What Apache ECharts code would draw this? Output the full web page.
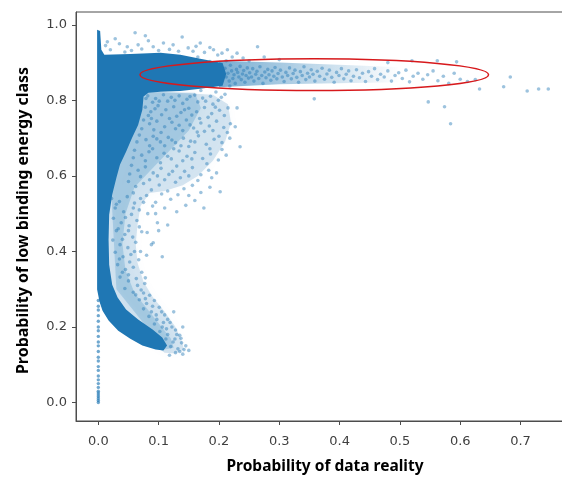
<!DOCTYPE html>
<html>
<head>
<meta charset="utf-8">
<script src="https://cdn.jsdelivr.net/npm/echarts@6.0.0/dist/echarts.min.js"></script>
<style>
  html, body { margin: 0; padding: 0; background: #fff; }
  #chart { width: 562px; height: 477px; }
</style>
</head>
<body>
<div id="chart"></div>
<script>
  // axis ranges and ticks (matplotlib style 5% margins)
  const xMin = -0.037, xMax = 0.782
  const yMin = -0.049, yMax = 1.034
  const xTicks = [0, 0.1, 0.2, 0.3, 0.4, 0.5, 0.6, 0.7]
  const yTicks = [0, 0.2, 0.4, 0.6, 0.8, 1.0]

  // outline of the solid (fully overlapped) part of the cloud
  const coreOutline = [
    [-0.002, 0.987], [0.003, 0.984], [0.005, 0.934], [0.010, 0.921], [0.053, 0.923],
    [0.103, 0.926], [0.136, 0.921], [0.169, 0.910], [0.206, 0.899], [0.212, 0.870],
    [0.206, 0.839], [0.169, 0.831], [0.136, 0.825], [0.103, 0.823], [0.083, 0.820],
    [0.075, 0.810], [0.073, 0.775], [0.066, 0.735], [0.056, 0.701], [0.046, 0.664],
    [0.036, 0.630], [0.030, 0.595], [0.023, 0.550], [0.018, 0.497], [0.017, 0.431],
    [0.018, 0.365], [0.023, 0.312], [0.032, 0.278], [0.046, 0.246], [0.066, 0.220],
    [0.090, 0.193], [0.106, 0.172], [0.114, 0.151], [0.108, 0.138], [0.095, 0.140],
    [0.073, 0.151], [0.053, 0.169], [0.033, 0.190], [0.017, 0.217], [0.007, 0.243],
    [0.002, 0.267], [-0.002, 0.299]
  ]

  // medium density region around the core (outer and inner level)
  const haloOutline = [
    [0.075, 0.825], [0.130, 0.820], [0.190, 0.815], [0.215, 0.790], [0.220, 0.740],
    [0.210, 0.690], [0.190, 0.640], [0.165, 0.600], [0.140, 0.575], [0.110, 0.560],
    [0.085, 0.555], [0.070, 0.520], [0.065, 0.470], [0.062, 0.420], [0.065, 0.370],
    [0.075, 0.320], [0.090, 0.280], [0.110, 0.240], [0.128, 0.200], [0.138, 0.165],
    [0.142, 0.140], [0.128, 0.130], [0.110, 0.132], [0.050, 0.200], [0.010, 0.300],
    [0.010, 0.800]
  ]
  const innerHaloOutline = [
    [0.075, 0.822], [0.160, 0.820], [0.170, 0.780], [0.150, 0.720], [0.120, 0.670],
    [0.090, 0.620], [0.060, 0.570], [0.045, 0.500], [0.040, 0.420], [0.045, 0.350],
    [0.060, 0.290], [0.080, 0.250], [0.100, 0.210], [0.120, 0.170], [0.125, 0.145],
    [0.110, 0.140], [0.030, 0.300], [0.020, 0.600]
  ]

  // medium density part of the horizontal band
  const bandOutline = [
    [0.200, 0.905], [0.300, 0.900], [0.420, 0.893], [0.500, 0.888],
    [0.500, 0.848], [0.420, 0.846], [0.300, 0.843], [0.200, 0.835]
  ]

  const topFringe = [
    [0.061, 0.979], [0.078, 0.971], [0.028, 0.963], [0.139, 0.968], [0.108, 0.952], [0.124, 0.947],
    [0.169, 0.952], [0.191, 0.934], [0.048, 0.942], [0.066, 0.947], [0.091, 0.942], [0.149, 0.939],
    [0.020, 0.934], [0.214, 0.934], [0.264, 0.942], [0.035, 0.950], [0.083, 0.958], [0.118, 0.935],
    [0.157, 0.930], [0.176, 0.927], [0.198, 0.920], [0.222, 0.915], [0.240, 0.912], [0.012, 0.945],
    [0.100, 0.932], [0.133, 0.930], [0.055, 0.932], [0.072, 0.936], [0.185, 0.940], [0.230, 0.925],
    [0.015, 0.955], [0.044, 0.928], [0.162, 0.943], [0.205, 0.925], [0.250, 0.905], [0.275, 0.915],
    [0.300, 0.908], [0.150, 0.905], [0.165, 0.915], [0.185, 0.903], [0.212, 0.905]
  ]

  const bandPoints = [
    [0.145, 0.832], [0.170, 0.826], [0.195, 0.822], [0.218, 0.838],
    [0.210, 0.885], [0.212, 0.862], [0.215, 0.872], [0.217, 0.851], [0.219, 0.893], [0.221, 0.878],
    [0.223, 0.858], [0.225, 0.868], [0.227, 0.845], [0.229, 0.882], [0.231, 0.874], [0.233, 0.862],
    [0.235, 0.890], [0.237, 0.855], [0.239, 0.870], [0.241, 0.879], [0.243, 0.848], [0.245, 0.866],
    [0.247, 0.886], [0.249, 0.859], [0.251, 0.873], [0.254, 0.862], [0.256, 0.884], [0.258, 0.851],
    [0.261, 0.869], [0.263, 0.877], [0.266, 0.858], [0.268, 0.889], [0.271, 0.866], [0.273, 0.845],
    [0.276, 0.875], [0.278, 0.860], [0.281, 0.882], [0.283, 0.868], [0.286, 0.853], [0.288, 0.878],
    [0.291, 0.864], [0.293, 0.887], [0.296, 0.857], [0.298, 0.871], [0.302, 0.880], [0.305, 0.862],
    [0.308, 0.850], [0.311, 0.874], [0.314, 0.866], [0.317, 0.886], [0.320, 0.857], [0.323, 0.871],
    [0.326, 0.880], [0.329, 0.861], [0.332, 0.848], [0.335, 0.876], [0.338, 0.866], [0.341, 0.889],
    [0.344, 0.855], [0.347, 0.872], [0.350, 0.862], [0.353, 0.881], [0.356, 0.869], [0.359, 0.851],
    [0.363, 0.877], [0.367, 0.864], [0.371, 0.885], [0.375, 0.856], [0.379, 0.870], [0.383, 0.880],
    [0.387, 0.861], [0.391, 0.848], [0.395, 0.874], [0.399, 0.866], [0.403, 0.884], [0.407, 0.857],
    [0.411, 0.869], [0.415, 0.878], [0.419, 0.852], [0.423, 0.864], [0.428, 0.881], [0.433, 0.860],
    [0.438, 0.872], [0.443, 0.850], [0.448, 0.876], [0.453, 0.864], [0.458, 0.884], [0.463, 0.855],
    [0.468, 0.869], [0.474, 0.862], [0.480, 0.878], [0.486, 0.851], [0.492, 0.866], [0.498, 0.873],
    [0.504, 0.858], [0.510, 0.880], [0.516, 0.849], [0.522, 0.864], [0.530, 0.872], [0.538, 0.856],
    [0.546, 0.868], [0.555, 0.878], [0.563, 0.852], [0.572, 0.864], [0.581, 0.845], [0.590, 0.872],
    [0.600, 0.856], [0.612, 0.850], [0.625, 0.855]
  ]

  const outliers = [
    [0.672, 0.836], [0.683, 0.862], [0.711, 0.825], [0.730, 0.830], [0.746, 0.830], [0.632, 0.830],
    [0.547, 0.796], [0.574, 0.783], [0.584, 0.738], [0.358, 0.804], [0.594, 0.902], [0.562, 0.905],
    [0.520, 0.905], [0.480, 0.900], [0.230, 0.780], [0.235, 0.677], [0.202, 0.558], [0.227, 0.730]
  ]

  const midCloud = [
    [0.082, 0.812], [0.095, 0.805], [0.108, 0.815], [0.121, 0.808], [0.134, 0.812], [0.147, 0.803],
    [0.160, 0.814], [0.173, 0.806], [0.186, 0.811], [0.199, 0.800], [0.210, 0.816], [0.090, 0.795],
    [0.115, 0.798], [0.140, 0.792], [0.165, 0.796], [0.190, 0.790], [0.078, 0.782], [0.087, 0.770],
    [0.099, 0.786], [0.112, 0.775], [0.125, 0.783], [0.137, 0.768], [0.150, 0.779], [0.163, 0.770],
    [0.176, 0.781], [0.188, 0.765], [0.201, 0.774], [0.215, 0.780], [0.105, 0.762], [0.130, 0.758],
    [0.155, 0.761], [0.182, 0.755], [0.075, 0.748], [0.085, 0.738], [0.097, 0.745], [0.110, 0.730],
    [0.122, 0.742], [0.134, 0.734], [0.146, 0.748], [0.158, 0.727], [0.170, 0.740], [0.184, 0.732],
    [0.196, 0.745], [0.208, 0.728], [0.219, 0.738], [0.092, 0.722], [0.140, 0.720], [0.176, 0.718],
    [0.068, 0.708], [0.079, 0.696], [0.091, 0.705], [0.103, 0.690], [0.116, 0.702], [0.128, 0.688],
    [0.141, 0.700], [0.153, 0.692], [0.166, 0.706], [0.179, 0.684], [0.192, 0.697], [0.205, 0.688],
    [0.218, 0.700], [0.110, 0.680], [0.150, 0.678], [0.060, 0.668], [0.072, 0.655], [0.084, 0.664],
    [0.097, 0.648], [0.109, 0.660], [0.121, 0.645], [0.134, 0.666], [0.147, 0.652], [0.160, 0.662],
    [0.173, 0.646], [0.186, 0.658], [0.199, 0.642], [0.212, 0.655], [0.125, 0.672], [0.055, 0.628],
    [0.066, 0.615], [0.078, 0.624], [0.091, 0.608], [0.104, 0.620], [0.117, 0.604], [0.130, 0.626],
    [0.143, 0.612], [0.156, 0.622], [0.170, 0.603], [0.183, 0.615], [0.196, 0.608], [0.050, 0.585],
    [0.062, 0.572], [0.075, 0.580], [0.088, 0.563], [0.101, 0.576], [0.115, 0.560], [0.128, 0.583],
    [0.142, 0.566], [0.156, 0.575], [0.170, 0.556], [0.185, 0.570], [0.070, 0.540], [0.095, 0.530],
    [0.120, 0.538], [0.145, 0.522], [0.160, 0.535], [0.175, 0.515], [0.110, 0.515],
    [0.079, 0.805], [0.101, 0.798], [0.127, 0.800], [0.152, 0.810], [0.178, 0.798], [0.204, 0.808],
    [0.083, 0.760], [0.094, 0.778], [0.118, 0.752], [0.143, 0.775], [0.168, 0.752], [0.194, 0.782],
    [0.209, 0.760], [0.072, 0.725], [0.088, 0.752], [0.104, 0.715], [0.128, 0.725], [0.152, 0.735],
    [0.164, 0.716], [0.190, 0.720], [0.214, 0.715], [0.064, 0.690], [0.085, 0.680], [0.097, 0.698],
    [0.122, 0.695], [0.137, 0.680], [0.160, 0.690], [0.185, 0.672], [0.200, 0.705], [0.058, 0.648],
    [0.078, 0.640], [0.090, 0.672], [0.103, 0.635], [0.115, 0.652], [0.140, 0.640], [0.155, 0.645],
    [0.180, 0.632], [0.205, 0.670], [0.052, 0.605], [0.070, 0.598], [0.085, 0.590], [0.098, 0.600],
    [0.110, 0.590], [0.123, 0.612], [0.136, 0.595], [0.150, 0.600], [0.165, 0.588], [0.188, 0.595],
    [0.058, 0.555], [0.080, 0.548], [0.105, 0.552], [0.132, 0.550], [0.150, 0.548], [0.090, 0.520],
    [0.130, 0.505]
  ]

  const lowCloud = [
    [0.022, 0.540], [0.035, 0.532], [0.048, 0.545], [0.060, 0.528], [0.028, 0.515], [0.042, 0.505],
    [0.055, 0.498], [0.068, 0.510], [0.025, 0.488], [0.038, 0.476], [0.051, 0.468], [0.064, 0.482],
    [0.030, 0.455], [0.044, 0.445], [0.057, 0.438], [0.072, 0.452], [0.024, 0.430], [0.036, 0.418],
    [0.049, 0.410], [0.062, 0.424], [0.088, 0.418], [0.028, 0.398], [0.041, 0.386], [0.054, 0.392],
    [0.067, 0.378], [0.032, 0.365], [0.045, 0.352], [0.058, 0.358], [0.072, 0.345], [0.036, 0.332],
    [0.050, 0.322], [0.063, 0.328], [0.077, 0.315], [0.044, 0.302], [0.058, 0.292], [0.071, 0.298],
    [0.085, 0.284], [0.100, 0.455], [0.115, 0.470], [0.095, 0.500], [0.080, 0.390], [0.098, 0.476],
    [0.091, 0.423], [0.081, 0.450], [0.106, 0.386],
    [0.030, 0.525], [0.045, 0.490], [0.058, 0.515], [0.033, 0.460], [0.050, 0.455], [0.040, 0.432],
    [0.060, 0.400], [0.035, 0.380], [0.052, 0.372], [0.040, 0.345], [0.065, 0.310], [0.050, 0.338],
    [0.075, 0.290], [0.078, 0.330], [0.070, 0.400], [0.068, 0.465], [0.082, 0.500], [0.075, 0.530]
  ]

  const curveFringe = [
    [0.068, 0.272], [0.080, 0.262], [0.093, 0.270], [0.075, 0.248], [0.088, 0.240], [0.101, 0.252],
    [0.084, 0.228], [0.097, 0.220], [0.110, 0.232], [0.093, 0.208], [0.106, 0.200], [0.119, 0.212],
    [0.102, 0.188], [0.115, 0.180], [0.128, 0.192], [0.112, 0.168], [0.124, 0.160], [0.137, 0.170],
    [0.120, 0.148], [0.132, 0.142], [0.145, 0.150], [0.128, 0.132], [0.140, 0.128], [0.150, 0.138],
    [0.118, 0.125], [0.125, 0.240], [0.140, 0.200], [0.135, 0.178],
    [0.062, 0.285], [0.078, 0.275], [0.090, 0.255], [0.105, 0.240], [0.096, 0.232], [0.115, 0.220],
    [0.108, 0.212], [0.122, 0.200], [0.130, 0.180], [0.127, 0.168], [0.138, 0.158], [0.142, 0.140],
    [0.135, 0.135], [0.113, 0.195]
  ]

  // the dotted run of points at x = 0 under the curve
  const zeroColumn = [
    [0, 0.0], [0, 0.005], [0, 0.01], [0, 0.015], [0, 0.02], [0, 0.025], [0, 0.03], [0, 0.04],
    [0, 0.05], [0, 0.06], [0, 0.07], [0, 0.085], [0, 0.095], [0, 0.11], [0, 0.12], [0, 0.135],
    [0, 0.15], [0, 0.16], [0, 0.175], [0, 0.19], [0, 0.2], [0, 0.215], [0, 0.23], [0, 0.245],
    [0, 0.255], [0, 0.27]
  ]

  // red ellipse: centre x, centre y, radius x, radius y
  const highlight = [0.358, 0.868, 0.289, 0.042]

  const blue = '#1f77b4'
  const axisColor = '#4d4d4d'

  function polygonSeries(outline, fill, z, blur) {
    return {
      type: 'custom',
      data: outline,
      z: z,
      silent: true,
      renderItem: function (params, api) {
        if (params.dataIndex !== 0) return null
        let style = {fill: fill}
        if (blur) {
          style.shadowBlur = blur
          style.shadowColor = fill
        }
        return {
          type: 'polygon',
          shape: {points: outline.map(p => api.coord(p))},
          style: style
        }
      }
    }
  }

  const chart = echarts.init(document.getElementById('chart'))

  let option = {
    animation: false,
    grid: {
      left: 76, top: 12, right: -8, bottom: 56,
      outerBoundsMode: 'none',
      show: true, borderColor: axisColor, borderWidth: 1
    },
    xAxis: {
      type: 'value', min: xMin, max: xMax,
      splitLine: {show: false},
      axisLine: {show: true, onZero: false, lineStyle: {color: axisColor}},
      axisTick: {show: true, length: 4, customValues: xTicks, lineStyle: {color: axisColor}},
      axisLabel: {
        customValues: xTicks, formatter: v => v.toFixed(1), margin: 14,
        color: '#404040', fontSize: 13, fontFamily: 'DejaVu Sans'
      },
      name: 'Probability of data reality', nameLocation: 'middle', nameGap: 38,
      nameTextStyle: {fontFamily: 'Noto Sans', fontWeight: 'bold', fontSize: 15.5, color: '#000', padding: [0, 0, 0, 4]}
    },
    yAxis: {
      type: 'value', min: yMin, max: yMax,
      splitLine: {show: false},
      axisLine: {show: true, onZero: false, lineStyle: {color: axisColor}},
      axisTick: {show: true, length: 4, customValues: yTicks, lineStyle: {color: axisColor}},
      axisLabel: {
        customValues: yTicks, formatter: v => v.toFixed(1), margin: 9,
        color: '#404040', fontSize: 13, fontFamily: 'DejaVu Sans'
      },
      name: 'Probability of low binding energy class', nameLocation: 'middle', nameGap: 45,
      nameTextStyle: {fontFamily: 'Noto Sans', fontWeight: 'bold', fontSize: 16, color: '#000', padding: [0, 8, 0, 0]}
    },
    series: [
      polygonSeries(haloOutline, 'rgba(31,119,180,0.18)', 1, 10),
      polygonSeries(innerHaloOutline, 'rgba(31,119,180,0.22)', 1, 10),
      polygonSeries(bandOutline, new echarts.graphic.LinearGradient(0, 0, 1, 0, [
        {offset: 0, color: 'rgba(31,119,180,0.6)'},
        {offset: 1, color: 'rgba(31,119,180,0.0)'}
      ]), 1),
      polygonSeries(coreOutline, blue, 2),
      {
        type: 'scatter',
        z: 3,
        silent: true,
        symbolSize: 3.6,
        itemStyle: {color: 'rgba(31,119,180,0.55)'},
        data: [].concat(topFringe, bandPoints, outliers, midCloud, lowCloud, curveFringe)
      },
      {
        type: 'scatter',
        z: 3,
        silent: true,
        symbolSize: 3.4,
        itemStyle: {color: 'rgba(31,119,180,0.8)'},
        data: zeroColumn
      },
      {
        type: 'custom',
        z: 4,
        silent: true,
        data: [highlight],
        renderItem: function (params, api) {
          const c = api.coord([api.value(0), api.value(1)])
          const s = api.size([api.value(2), api.value(3)])
          return {
            type: 'ellipse',
            shape: {cx: c[0], cy: c[1], rx: s[0], ry: s[1]},
            style: {fill: 'none', stroke: '#d7191c', lineWidth: 1.5}
          }
        }
      }
    ]
  }
  chart.setOption(option)
</script>
</body>
</html>
